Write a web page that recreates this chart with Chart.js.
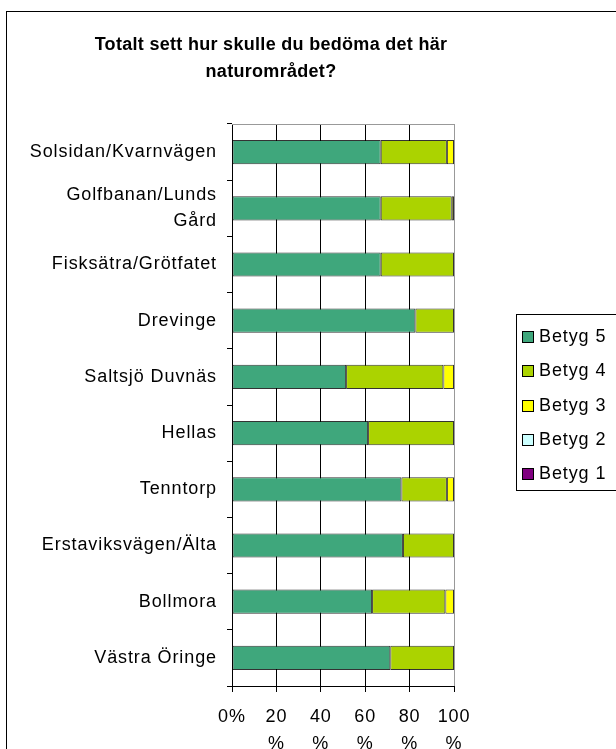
<!DOCTYPE html>
<html lang="sv">
<head>
  <meta charset="UTF-8" />
  <title>Totalt sett hur skulle du bedöma det här naturområdet?</title>
  <script src="https://cdn.jsdelivr.net/npm/chart.js"></script>
  <style>
    body { margin: 0; background: #fff; }
    #wrap { position: relative; width: 616px; height: 749px; }
  </style>
</head>
<body>
<div id="wrap"><canvas id="chart" width="616" height="749"></canvas></div>
<script>
  const omraden = [
    'Solsidan/Kvarnvägen', ['Golfbanan/Lunds', 'Gård'], 'Fisksätra/Grötfatet', 'Drevinge',
    'Saltsjö Duvnäs', 'Hellas', 'Tenntorp', 'Erstaviksvägen/Älta', 'Bollmora', 'Västra Öringe'
  ];
  const betyg5 = [67, 67, 67, 82.6, 51.4, 61.3, 76.3, 77, 63.1, 71.3];
  const betyg4 = [29.8, 32, 33, 17.4, 43.8, 38.7, 20.5, 23, 33, 28.7];
  const betyg3 = [3.2, 1, 0, 0, 4.8, 0, 3.2, 0, 3.9, 0];
  const betyg2 = [0, 0, 0, 0, 0, 0, 0, 0, 0, 0];
  const betyg1 = [0, 0, 0, 0, 0, 0, 0, 0, 0, 0];
  const xTicks = [0, 20, 40, 60, 80, 100];
  const titel = ['Totalt sett hur skulle du bedöma det här', 'naturområdet?'];

  const FONT = 'Arial, "Liberation Sans", sans-serif';
  const SPACING = '0.9px';

  function ds(label, data, color) {
    return {
      label, data,
      backgroundColor: color,
      borderColor: 'rgba(0,0,0,0.8)',
      borderWidth: 1,
      borderSkipped: false,
      barPercentage: 0.43,
      categoryPercentage: 1
    };
  }

  // ram, titel, plotkant och förklaring
  const ritaExtra = {
    id: 'ritaExtra',
    beforeLayout(chart) { chart.ctx.letterSpacing = SPACING; },
    beforeDraw(chart) { chart.ctx.letterSpacing = SPACING; },
    beforeDatasetsDraw(chart) {
      const { ctx, chartArea: a } = chart;
      ctx.save();
      ctx.strokeStyle = '#999';
      ctx.lineWidth = 1;
      ctx.beginPath();
      ctx.moveTo(a.left, a.top + 0.5);
      ctx.lineTo(a.right + 0.5, a.top + 0.5);
      ctx.lineTo(a.right + 0.5, a.bottom);
      ctx.stroke();
      ctx.restore();
    },
    afterDraw(chart) {
      const ctx = chart.ctx;
      ctx.save();
      ctx.strokeStyle = '#000';
      ctx.lineWidth = 1;
      ctx.strokeRect(6.5, 11.5, 700, 800);

      ctx.fillStyle = '#000';
      ctx.letterSpacing = '0.3px';
      ctx.font = 'bold 18px ' + FONT;
      ctx.textAlign = 'center';
      ctx.textBaseline = 'middle';
      ctx.fillText(titel[0], 271, 45);
      ctx.fillText(titel[1], 271, 72);

      // förklaring
      ctx.letterSpacing = SPACING;
      ctx.strokeRect(516.5, 314.5, 200, 176);
      ctx.font = '18px ' + FONT;
      ctx.textAlign = 'left';
      chart.data.datasets.forEach((d, i) => {
        const y = 337 + i * 34.3;
        ctx.fillStyle = d.backgroundColor;
        ctx.fillRect(523, Math.round(y) - 5, 10, 10);
        ctx.strokeStyle = '#000';
        ctx.strokeRect(522.5, Math.round(y) - 5.5, 11, 11);
        ctx.fillStyle = '#000';
        ctx.fillText(d.label, 539, y);
      });
      ctx.restore();
    }
  };

  new Chart(document.getElementById('chart'), {
    type: 'bar',
    data: {
      labels: omraden,
      datasets: [
        ds('Betyg 5', betyg5, '#3FA77C'),
        ds('Betyg 4', betyg4, '#ABD300'),
        ds('Betyg 3', betyg3, '#FFFF00'),
        ds('Betyg 2', betyg2, '#CCFFFF'),
        ds('Betyg 1', betyg1, '#800080')
      ]
    },
    options: {
      indexAxis: 'y',
      responsive: false,
      animation: false,
      layout: { padding: { top: 124, right: 162, left: 0, bottom: 0 } },
      plugins: {
        legend: { display: false },
        title: { display: false },
        tooltip: { enabled: false }
      },
      scales: {
        x: {
          stacked: true,
          min: 0, max: 100,
          afterBuildTicks: s => { s.ticks = xTicks.map(v => ({ value: v })); },
          afterFit: s => { s.height = 63; },
          grid: {
            color: c => c.tick && c.tick.value === 100 ? '#999' : '#000',
            lineWidth: 1,
            tickLength: 6,
            tickColor: '#000'
          },
          border: { color: '#000', width: 1 },
          ticks: {
            color: '#000',
            padding: 12,
            maxRotation: 0,
            autoSkip: false,
            font: { family: FONT, size: 18, lineHeight: '27px' },
            callback: v => v === 0 ? '0%' : [String(v), '%']
          }
        },
        y: {
          stacked: true,
          afterFit: s => { s.width = 232; },
          grid: {
            offset: true,
            drawOnChartArea: false,
            tickLength: 5,
            color: '#000'
          },
          border: { color: '#000', width: 1 },
          ticks: {
            color: '#000',
            padding: 10,
            autoSkip: false,
            font: { family: FONT, size: 18, lineHeight: '26px' }
          }
        }
      }
    },
    plugins: [ritaExtra]
  });
</script>
</body>
</html>
